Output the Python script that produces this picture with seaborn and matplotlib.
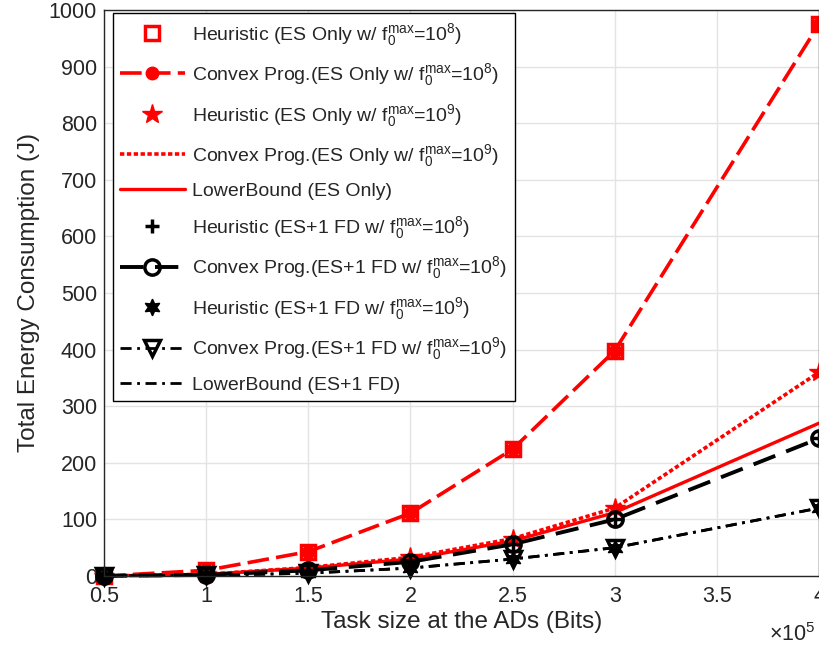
import matplotlib
matplotlib.use("Agg")
import matplotlib.pyplot as plt
import seaborn as sns
import pandas as pd
import numpy as np

sns.set_theme(style="whitegrid")
plt.rcParams['font.family'] = ['Liberation Sans', 'DejaVu Sans']
plt.rcParams['mathtext.fontset'] = 'custom'
plt.rcParams['mathtext.rm'] = 'Liberation Sans'
plt.rcParams['mathtext.it'] = 'Liberation Sans'

# Task size (x 10^5 bits)
task_size = [0.5, 1.0, 1.5, 2.0, 2.5, 3.0, 4.0]

heur_es_1e8 = [0, 10, 43, 111, 224, 398, 975]
cvx_es_1e8 = [0, 10, 43, 111, 224, 398, 975]
heur_es_1e9 = [0, 3, 15, 33, 66, 120, 360]
cvx_es_1e9 = [0, 3, 15, 33, 66, 120, 360]
lb_es = [0, 3, 14, 30, 62, 112, 270]
heur_fd_1e8 = [0, 2, 10, 25, 56, 100, 243]
cvx_fd_1e8 = [0, 2, 10, 25, 56, 100, 243]
heur_fd_1e9 = [0, 1, 5, 14, 30, 50, 120]
cvx_fd_1e9 = [0, 1, 5, 14, 30, 50, 120]
lb_fd = [0, 1, 5, 14, 30, 50, 120]

fmx = r'$\mathregular{f_0^{max}}$'
labels = [
    'Heuristic (ES Only w/ ' + fmx + r'=$\mathregular{10^8}$)',
    'Convex Prog.(ES Only w/ ' + fmx + r'=$\mathregular{10^8}$)',
    'Heuristic (ES Only w/ ' + fmx + r'=$\mathregular{10^9}$)',
    'Convex Prog.(ES Only w/ ' + fmx + r'=$\mathregular{10^9}$)',
    'LowerBound (ES Only)',
    'Heuristic (ES+1 FD w/ ' + fmx + r'=$\mathregular{10^8}$)',
    'Convex Prog.(ES+1 FD w/ ' + fmx + r'=$\mathregular{10^8}$)',
    'Heuristic (ES+1 FD w/ ' + fmx + r'=$\mathregular{10^9}$)',
    'Convex Prog.(ES+1 FD w/ ' + fmx + r'=$\mathregular{10^9}$)',
    'LowerBound (ES+1 FD)',
]

series = [heur_es_1e8, cvx_es_1e8, heur_es_1e9, cvx_es_1e9, lb_es,
          heur_fd_1e8, cvx_fd_1e8, heur_fd_1e9, cvx_fd_1e9, lb_fd]

red = '#ff0000'
blk = '#000000'
styles = [
    dict(color=red, linestyle='', marker='s', markersize=10, markerfacecolor='none',
         markeredgecolor=red, markeredgewidth=2.5),
    dict(color=red, linestyle=(0, (6, 2)), linewidth=2.6, marker='o', markersize=9,
         markerfacecolor=red, markeredgecolor=red, markeredgewidth=1),
    dict(color=red, linestyle='', marker='*', markersize=15, markerfacecolor=red,
         markeredgecolor=red, markeredgewidth=1),
    dict(color=red, linestyle=(0, (1.2, 0.7)), linewidth=2.6, marker=None),
    dict(color=red, linestyle='-', linewidth=2.4, marker=None),
    dict(color=blk, linestyle='', marker='+', markersize=10, markeredgecolor=blk,
         markeredgewidth=2.5),
    dict(color=blk, linestyle=(0, (6, 3)), linewidth=2.8, marker='o', markersize=11,
         markerfacecolor='none', markeredgecolor=blk, markeredgewidth=2.5),
    dict(color=blk, linestyle='', marker=(6, 1, 0), markersize=12, markerfacecolor=blk,
         markeredgecolor=blk, markeredgewidth=1),
    dict(color=blk, linestyle=(0, (4, 2, 1, 2)), linewidth=2.0, marker='v', markersize=12,
         markerfacecolor='none', markeredgecolor=blk, markeredgewidth=2.5),
    dict(color=blk, linestyle=(0, (4, 2, 1, 2)), linewidth=2.0, marker=None),
]

fig = plt.figure(figsize=(8.19, 6.49), dpi=100)
ax = fig.add_axes([104/819, 73/649, 1 - 104/819, (576 - 10)/649])

for vals, lab, st in zip(series, labels, styles):
    df = pd.DataFrame({'x': task_size, 'y': vals})
    sns.lineplot(data=df, x='x', y='y', ax=ax, label=lab, sort=False, **st)

for ln in ax.get_lines():
    if ln.get_marker() not in (None, 'None', ''):
        ln.set_clip_on(False)

ax.set_xlim(0.5, 4.0)
ax.set_ylim(0, 1000)
ax.set_xticks([0.5, 1, 1.5, 2, 2.5, 3, 3.5, 4])
ax.set_xticklabels(['0.5', '1', '1.5', '2', '2.5', '3', '3.5', '4'])
ax.set_yticks(np.arange(0, 1001, 100))
ax.grid(True, color='#e3e3e3', linewidth=1)
ax.tick_params(direction='in', length=6, width=1, colors='#262626', labelsize=15.5)
ax.tick_params(axis='x', pad=7)
ax.tick_params(axis='y', pad=5)
for s in ax.spines.values():
    s.set_color('#262626')
    s.set_linewidth(1)
ax.set_xlabel('Task size at the ADs (Bits)', fontsize=17.5, color='#262626', labelpad=3)
ax.set_ylabel('Total Energy Consumption (J)', fontsize=17.5, color='#262626', labelpad=6)
fig.text(815/819, 3/649, r'$\mathregular{\times 10^5}$', fontsize=15.5, color='#262626',
         ha='right', va='bottom')

leg = ax.legend(loc='upper left', bbox_to_anchor=(0.012, 0.995), fontsize=14,
                frameon=True, fancybox=False, edgecolor='black', framealpha=1,
                handlelength=3.3, labelspacing=0.7, borderpad=0.4, handletextpad=0.4,
                borderaxespad=0)
leg.get_frame().set_linewidth(1)
leg.set_zorder(5)
for t in leg.get_texts():
    t.set_color('#262626')

fig.savefig('out.png', dpi=100)
